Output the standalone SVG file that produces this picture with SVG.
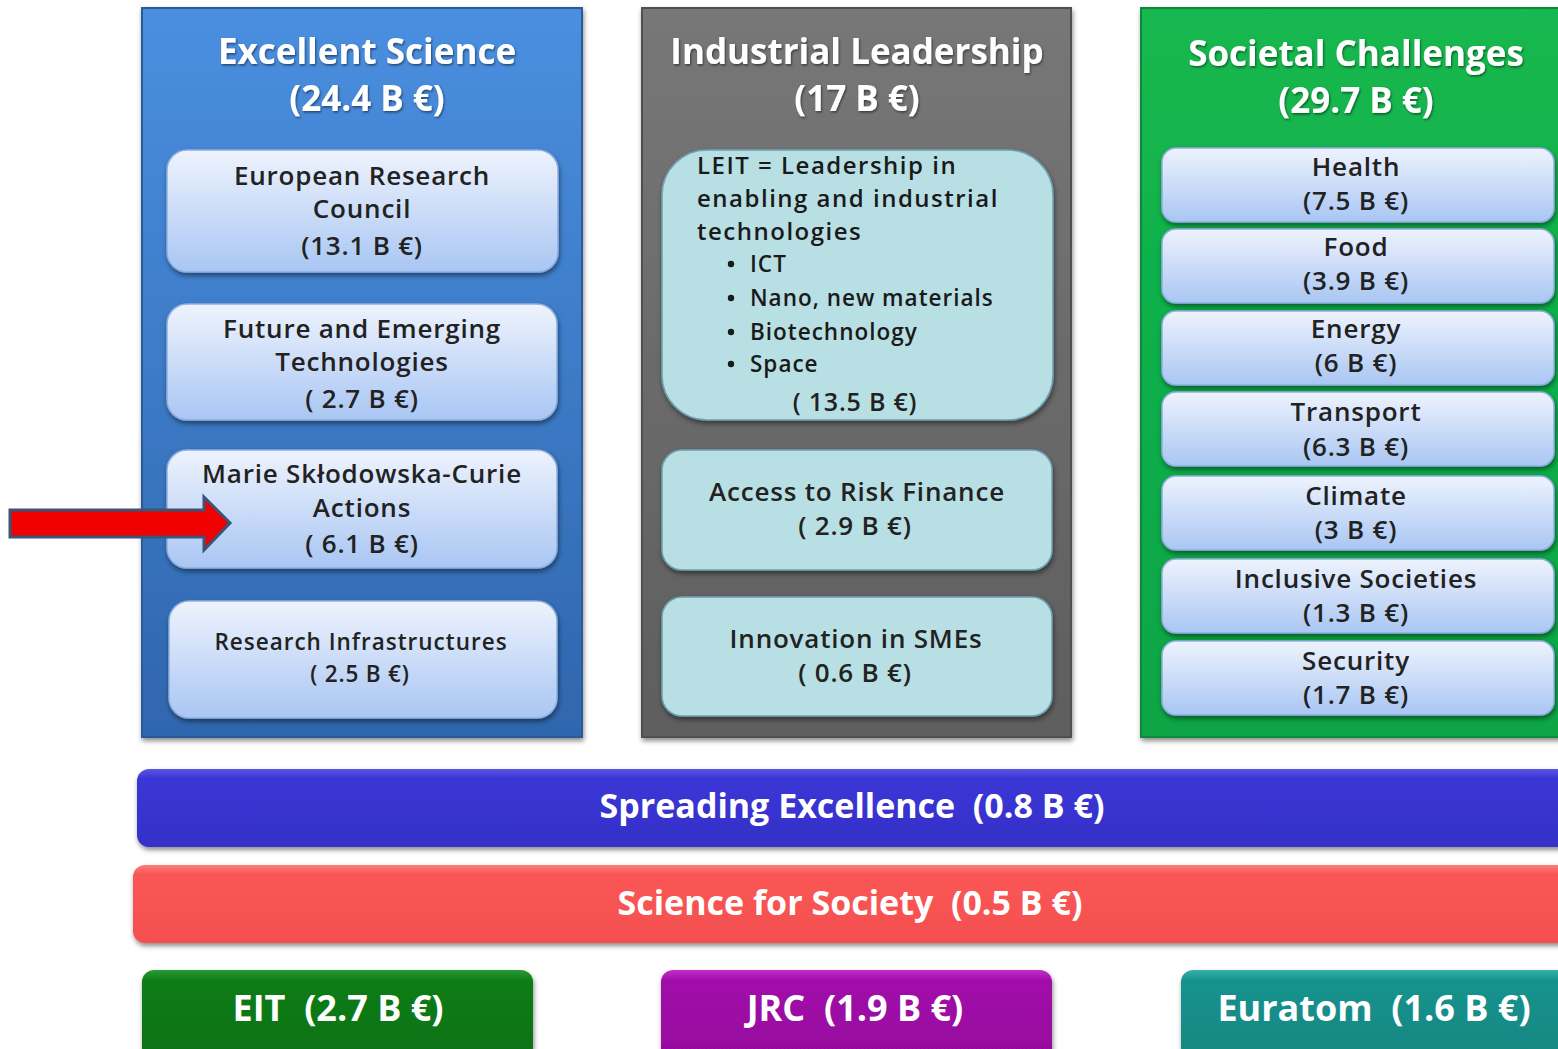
<svg xmlns="http://www.w3.org/2000/svg" width="1558" height="1049" viewBox="0 0 1558 1049">
<defs>
<linearGradient id="gES" x1="0" y1="0" x2="0" y2="1"><stop offset="0" stop-color="#4a8fe0"/><stop offset="1" stop-color="#2f66ad"/></linearGradient>
<linearGradient id="gIL" x1="0" y1="0" x2="0" y2="1"><stop offset="0" stop-color="#777777"/><stop offset="1" stop-color="#5e5e5e"/></linearGradient>
<linearGradient id="gSC" x1="0" y1="0" x2="0" y2="1"><stop offset="0" stop-color="#14b84f"/><stop offset="1" stop-color="#0ba544"/></linearGradient>
<linearGradient id="gSub" x1="0" y1="0" x2="0" y2="1"><stop offset="0" stop-color="#eef3fd"/><stop offset="1" stop-color="#a9c6f3"/></linearGradient>
<linearGradient id="gBarB" x1="0" y1="0" x2="0" y2="1"><stop offset="0" stop-color="#5a56e6"/><stop offset="0.12" stop-color="#3b36d6"/><stop offset="1" stop-color="#3430c8"/></linearGradient>
<linearGradient id="gBarR" x1="0" y1="0" x2="0" y2="1"><stop offset="0" stop-color="#ff7b7b"/><stop offset="0.12" stop-color="#fb5656"/><stop offset="1" stop-color="#f44f4f"/></linearGradient>
<linearGradient id="gEIT" x1="0" y1="0" x2="0" y2="1"><stop offset="0" stop-color="#2c9a35"/><stop offset="0.12" stop-color="#0c7c18"/><stop offset="1" stop-color="#0a7214"/></linearGradient>
<linearGradient id="gJRC" x1="0" y1="0" x2="0" y2="1"><stop offset="0" stop-color="#c030c8"/><stop offset="0.12" stop-color="#a10aa9"/><stop offset="1" stop-color="#96069e"/></linearGradient>
<linearGradient id="gEUR" x1="0" y1="0" x2="0" y2="1"><stop offset="0" stop-color="#35b0aa"/><stop offset="0.12" stop-color="#16928d"/><stop offset="1" stop-color="#128782"/></linearGradient>
<filter id="sh" x="-5%" y="-10%" width="110%" height="125%"><feDropShadow dx="1" dy="3" stdDeviation="2.5" flood-color="#000" flood-opacity="0.45"/></filter>
<filter id="tsh" x="-5%" y="-20%" width="110%" height="140%"><feDropShadow dx="1" dy="1.5" stdDeviation="1" flood-color="#000" flood-opacity="0.5"/></filter>
</defs>
<style>
.col{stroke-width:2}
.sub{fill:url(#gSub);stroke:#8eaee0;stroke-width:1.5;filter:url(#sh)}
.cyan{fill:#b8e0e4;stroke:#6f9fb3;stroke-width:1.5;filter:url(#sh)}
text{font-family:"Open Sans","Noto Sans",sans-serif}
.hd{font-weight:bold;font-size:35px;fill:#fff;text-anchor:middle;filter:url(#tsh)}
.t{font-weight:600;font-size:26px;fill:#222;text-anchor:middle;letter-spacing:0.8px}
.tl{font-weight:600;font-size:24px;fill:#1a1a1a;letter-spacing:1.5px}
.ts{font-weight:600;font-size:22.5px;fill:#1a1a1a;letter-spacing:1px}
.bar{font-weight:bold;font-size:34px;fill:#fff;text-anchor:middle;white-space:pre}
.bx{font-weight:bold;font-size:36px;fill:#fff;text-anchor:middle;white-space:pre}
</style>

<g id="excellent-science">
<rect x="142" y="8" width="440" height="729" fill="url(#gES)" stroke="#2b5a98" class="col" filter="url(#sh)"/>
<text class="hd" x="367" y="64">Excellent Science</text>
<text class="hd" x="367" y="111">(24.4 B €)</text>
</g>
<g id="erc">
<rect class="sub" x="167" y="150" width="391" height="122" rx="20"/>
<text class="t" x="362" y="185">European Research</text>
<text class="t" x="362" y="218">Council</text>
<text class="t" x="362" y="255">(13.1 B €)</text>
</g>
<g id="fet">
<rect class="sub" x="167" y="304" width="390" height="116" rx="20"/>
<text class="t" x="362" y="338">Future and Emerging</text>
<text class="t" x="362" y="371">Technologies</text>
<text class="t" x="362" y="408">( 2.7 B €)</text>
</g>
<g id="msca">
<rect class="sub" x="167" y="450" width="390" height="118" rx="20"/>
<text class="t" x="362" y="483">Marie Skłodowska-Curie</text>
<text class="t" x="362" y="517">Actions</text>
<text class="t" x="362" y="553">( 6.1 B €)</text>
</g>
<g id="ri">
<rect class="sub" x="169" y="601" width="388" height="117" rx="20"/>
<text class="t" x="361" y="650" style="font-size:22.5px;letter-spacing:1px">Research Infrastructures</text>
<text class="t" x="360" y="682" style="font-size:22.5px">( 2.5 B €)</text>
</g>

<g id="industrial-leadership">
<rect x="642" y="8" width="429" height="729" fill="url(#gIL)" stroke="#505050" class="col" filter="url(#sh)"/>
<text class="hd" x="857" y="64">Industrial Leadership</text>
<text class="hd" x="857" y="111">(17 B €)</text>
</g>
<g id="leit">
<rect class="cyan" x="662" y="150" width="391" height="270" rx="45"/>
<text class="tl" x="697" y="174">LEIT = Leadership in</text>
<text class="tl" x="697" y="207">enabling and industrial</text>
<text class="tl" x="697" y="240">technologies</text>
<circle cx="731" cy="264" r="3.2" fill="#1a1a1a"/><text class="ts" x="750" y="272">ICT</text>
<circle cx="731" cy="298" r="3.2" fill="#1a1a1a"/><text class="ts" x="750" y="306">Nano, new materials</text>
<circle cx="731" cy="332" r="3.2" fill="#1a1a1a"/><text class="ts" x="750" y="340">Biotechnology</text>
<circle cx="731" cy="364" r="3.2" fill="#1a1a1a"/><text class="ts" x="750" y="372">Space</text>
<text class="t" x="855" y="411" style="font-size:25px">( 13.5 B €)</text>
</g>
<g id="risk-finance">
<rect class="cyan" x="662" y="450" width="390" height="120" rx="20"/>
<text class="t" x="857" y="501">Access to Risk Finance</text>
<text class="t" x="855" y="535">( 2.9 B €)</text>
</g>
<g id="smes">
<rect class="cyan" x="662" y="597" width="390" height="119" rx="20"/>
<text class="t" x="856" y="648">Innovation in SMEs</text>
<text class="t" x="855" y="682">( 0.6 B €)</text>
</g>

<g id="societal-challenges">
<rect x="1141" y="8" width="430" height="729" fill="url(#gSC)" stroke="#0a8a38" class="col" filter="url(#sh)"/>
<text class="hd" x="1356" y="66">Societal Challenges</text>
<text class="hd" x="1356" y="113">(29.7 B €)</text>
</g>
<g id="health"><rect class="sub" x="1162" y="148" width="392" height="74" rx="14"/>
<text class="t" x="1356" y="176">Health</text><text class="t" x="1356" y="210">(7.5 B €)</text></g>
<g id="food"><rect class="sub" x="1162" y="229" width="392" height="74" rx="14"/>
<text class="t" x="1356" y="256">Food</text><text class="t" x="1356" y="290">(3.9 B €)</text></g>
<g id="energy"><rect class="sub" x="1162" y="311" width="392" height="74" rx="14"/>
<text class="t" x="1356" y="338">Energy</text><text class="t" x="1356" y="372">(6 B €)</text></g>
<g id="transport"><rect class="sub" x="1162" y="392" width="392" height="74" rx="14"/>
<text class="t" x="1356" y="421">Transport</text><text class="t" x="1356" y="456">(6.3 B €)</text></g>
<g id="climate"><rect class="sub" x="1162" y="476" width="392" height="74" rx="14"/>
<text class="t" x="1356" y="505">Climate</text><text class="t" x="1356" y="539">(3 B €)</text></g>
<g id="inclusive"><rect class="sub" x="1162" y="559" width="392" height="74" rx="14"/>
<text class="t" x="1356" y="588">Inclusive Societies</text><text class="t" x="1356" y="622">(1.3 B €)</text></g>
<g id="security"><rect class="sub" x="1162" y="641" width="392" height="74" rx="14"/>
<text class="t" x="1356" y="670">Security</text><text class="t" x="1356" y="704">(1.7 B €)</text></g>

<g id="spreading-excellence">
<rect x="137" y="769" width="1440" height="78" rx="12" fill="url(#gBarB)" filter="url(#sh)"/>
<text class="bar" x="852" y="818">Spreading Excellence  (0.8 B €)</text>
</g>
<g id="science-for-society">
<rect x="133" y="865" width="1444" height="78" rx="12" fill="url(#gBarR)" filter="url(#sh)"/>
<text class="bar" x="850" y="915">Science for Society  (0.5 B €)</text>
</g>
<g id="eit">
<rect x="142" y="970" width="391" height="90" rx="12" fill="url(#gEIT)" filter="url(#sh)"/>
<text class="bx" x="338" y="1021">EIT  (2.7 B €)</text>
</g>
<g id="jrc">
<rect x="661" y="970" width="391" height="90" rx="12" fill="url(#gJRC)" filter="url(#sh)"/>
<text class="bx" x="855" y="1021">JRC  (1.9 B €)</text>
</g>
<g id="euratom">
<rect x="1181" y="970" width="400" height="90" rx="12" fill="url(#gEUR)" filter="url(#sh)"/>
<text class="bx" x="1374" y="1021">Euratom  (1.6 B €)</text>
</g>

<g id="connectors">
<polygon points="10,510 204,510 204,497 230,523 204,550 204,537 10,537" fill="#f00000" stroke="#3b5477" stroke-width="3" stroke-linejoin="miter"/>
</g>
</svg>
